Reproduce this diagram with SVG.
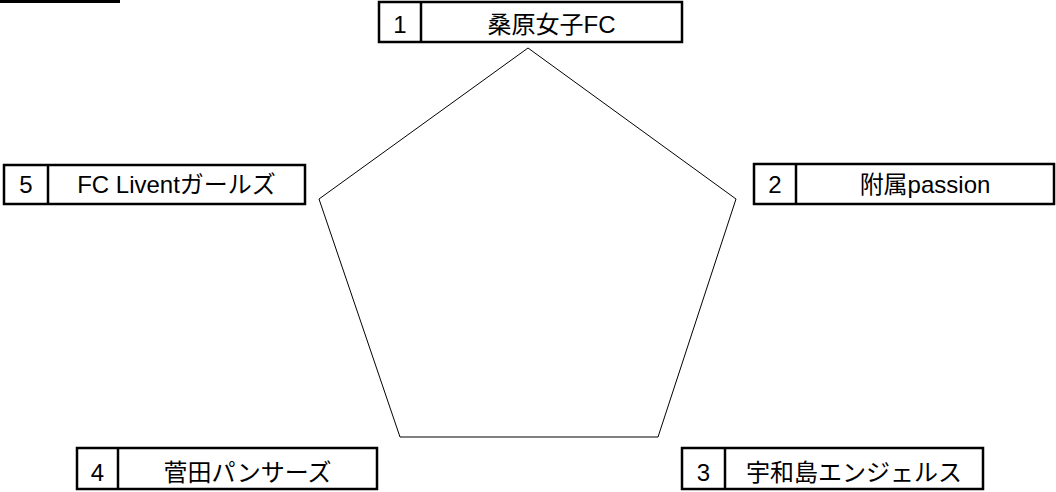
<svg xmlns="http://www.w3.org/2000/svg" width="1056" height="492" viewBox="0 0 1056 492">
<style>
.box{fill:#fff;stroke:#000;stroke-width:2.5}
.div{stroke:#000;stroke-width:2.5}
.t{font-family:"Liberation Sans","Noto Sans CJK JP",sans-serif;font-size:24px;fill:#000;text-anchor:middle}
.pent{fill:#fff;stroke:#000;stroke-width:1}
</style>
<rect x="0" y="0" width="120" height="3" fill="#000"/>
<g id="connectors">
<polygon class="pent" points="528,48 736,199 658,437 400,437 319,199"/>
</g>
<g id="node1">
<rect class="box" x="379" y="2" width="303" height="40"/>
<line class="div" x1="421" y1="2" x2="421" y2="42"/>
<text class="t" x="400" y="33">1</text>
<text class="t" x="551.5" y="33">桑原女子FC</text>
</g>
<g id="node2">
<rect class="box" x="754" y="164" width="300" height="40"/>
<line class="div" x1="796" y1="164" x2="796" y2="204"/>
<text class="t" x="775" y="193">2</text>
<text class="t" x="925" y="193">附属passion</text>
</g>
<g id="node3">
<rect class="box" x="682" y="448" width="301" height="41"/>
<line class="div" x1="725" y1="448" x2="725" y2="489"/>
<text class="t" x="703.5" y="481">3</text>
<text class="t" x="854" y="481">宇和島エンジェルス</text>
</g>
<g id="node4">
<rect class="box" x="77" y="448" width="300" height="41"/>
<line class="div" x1="118" y1="448" x2="118" y2="489"/>
<text class="t" x="97.5" y="481">4</text>
<text class="t" x="247.5" y="481">菅田パンサーズ</text>
</g>
<g id="node5">
<rect class="box" x="4" y="165" width="301" height="39"/>
<line class="div" x1="48" y1="165" x2="48" y2="204"/>
<text class="t" x="26" y="193">5</text>
<text class="t" x="176.5" y="193">FC Liventガールズ</text>
</g>
</svg>
